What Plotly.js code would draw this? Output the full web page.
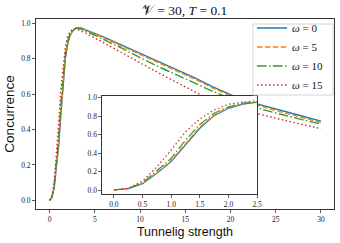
<!DOCTYPE html>
<html>
<head>
<meta charset="utf-8">
<script src="https://cdn.plot.ly/plotly-3.0.1.min.js"></script>
<style>html,body{margin:0;padding:0;background:#fff;}#chart{width:340px;height:243px;}</style>
</head>
<body>
<div id="chart"></div>
<script>
// Tunneling strength samples
const tunneling = [0,0.25,0.5,0.75,1,1.25,1.5,1.75,2,2.25,2.5,2.75,3,3.25,3.5,4,5,6,7,8,9,10,12,14,16,18,20,22,24,26,28,30];
// Concurrence series for each omega
const omega0  = [0,0.015,0.068,0.18,0.307,0.487,0.668,0.805,0.884,0.93,0.953,0.968,0.975,0.976,0.974,0.963,0.944,0.922,0.900,0.877,0.854,0.831,0.786,0.740,0.694,0.643,0.597,0.558,0.529,0.502,0.475,0.448];
const omega5  = [0,0.016,0.072,0.19,0.32,0.505,0.682,0.813,0.89,0.933,0.955,0.968,0.974,0.975,0.972,0.961,0.941,0.918,0.895,0.872,0.849,0.826,0.780,0.734,0.687,0.636,0.591,0.551,0.521,0.494,0.467,0.440];
const omega10 = [0,0.017,0.078,0.21,0.343,0.54,0.71,0.83,0.9,0.94,0.958,0.969,0.973,0.972,0.968,0.957,0.934,0.909,0.884,0.860,0.833,0.806,0.757,0.710,0.663,0.617,0.575,0.537,0.507,0.480,0.455,0.431];
const omega15 = [0,0.02,0.097,0.25,0.433,0.63,0.77,0.866,0.928,0.952,0.966,0.970,0.968,0.963,0.958,0.945,0.918,0.890,0.860,0.832,0.802,0.775,0.722,0.668,0.615,0.563,0.527,0.501,0.477,0.452,0.428,0.405];
const seriesNames = ['<i>ω</i> = 0','<i>ω</i> = 5','<i>ω</i> = 10','<i>ω</i> = 15'];
const mainXTicks = [0,5,10,15,20,25,30];
const mainYTicks = [0,0.2,0.4,0.6,0.8,1.0];
const insetXTicks = [0,0.5,1,1.5,2,2.5];
const insetYTicks = [0,0.2,0.4,0.6,0.8,1.0];

const colors = ['#1f77b4','#ff7f0e','#2ca02c','#d62728'];
const dashes = ['solid','5.5px,2.4px','9.6px,2.4px,1.5px,2.4px','1.5px,2.5px'];
const allSeries = [omega0, omega5, omega10, omega15];

const traces = [];
allSeries.forEach((ys, i) => {
  traces.push({x: tunneling, y: ys, type: 'scatter', mode: 'lines', name: seriesNames[i],
    line: {color: colors[i], dash: dashes[i], width: 1.4}, xaxis: 'x', yaxis: 'y'});
});
allSeries.forEach((ys, i) => {
  traces.push({x: tunneling, y: ys, type: 'scatter', mode: 'lines', name: seriesNames[i], showlegend: false,
    line: {color: colors[i], dash: dashes[i], width: 1.2}, xaxis: 'x2', yaxis: 'y2'});
});

const tickFont = {family: 'Liberation Serif, serif', size: 7.5, color: '#222'};
const axisCommon = {showline: true, mirror: true, linecolor: '#333', linewidth: 1, ticks: 'outside',
  ticklen: 3, tickwidth: 0.8, tickcolor: '#333', showgrid: false, zeroline: false, tickfont: tickFont};

// legend frame (matplotlib-style box), in pixel-derived paper fractions
const pw = 298, ph = 190, ml = 36, mt = 19;
const px = v => (v - ml) / pw, py = v => (mt + ph - v) / ph;

const layout = {
  width: 340, height: 243,
  margin: {l: 36, r: 6, t: 19, b: 34},
  paper_bgcolor: '#fff', plot_bgcolor: '#fff',
  title: {text: '𝒱 = 30, <i>T</i> = 0.1', font: {family: 'Liberation Serif, serif', size: 13.5, color: '#111'},
    x: 0.543, xanchor: 'center', y: 0.958, yanchor: 'middle', xref: 'container', yref: 'container'},
  xaxis: Object.assign({}, axisCommon, {range: [-1.5, 31.45], tickvals: mainXTicks, ticktext: mainXTicks.map(String),
    title: {text: 'Tunnelig strength', font: {family: 'Liberation Sans, sans-serif', size: 12.5, color: '#111'}, standoff: 4}}),
  yaxis: Object.assign({}, axisCommon, {range: [-0.049, 1.025], tickvals: mainYTicks, ticktext: mainYTicks.map(v => v.toFixed(1)),
    title: {text: 'Concurrence', font: {family: 'Liberation Sans, sans-serif', size: 13.5, color: '#111'}, standoff: 3}}),
  xaxis2: Object.assign({}, axisCommon, {domain: [0.223, 0.742], anchor: 'y2', range: [-0.2, 2.5],
    tickvals: insetXTicks, ticktext: insetXTicks.map(v => v.toFixed(1))}),
  yaxis2: Object.assign({}, axisCommon, {domain: [0.079, 0.595], anchor: 'x2', range: [-0.043, 1.018],
    tickvals: insetYTicks, ticktext: insetYTicks.map(v => v.toFixed(1))}),
  shapes: [{type: 'rect', xref: 'paper', yref: 'paper', x0: px(253), x1: px(333), y0: py(95), y1: py(24),
    line: {color: '#d4d4d4', width: 1}, fillcolor: 'rgba(255,255,255,0.8)', layer: 'above'}],
  showlegend: true,
  legend: {x: px(252), y: py(13.5), xanchor: 'left', yanchor: 'top', bgcolor: 'rgba(0,0,0,0)',
    borderwidth: 0, font: {family: 'Liberation Serif, serif', size: 11, color: '#111'},
    itemwidth: 30, tracegroupgap: 0}
};

Plotly.newPlot('chart', traces, layout, {staticPlot: true, displayModeBar: false});
</script>
</body>
</html>
